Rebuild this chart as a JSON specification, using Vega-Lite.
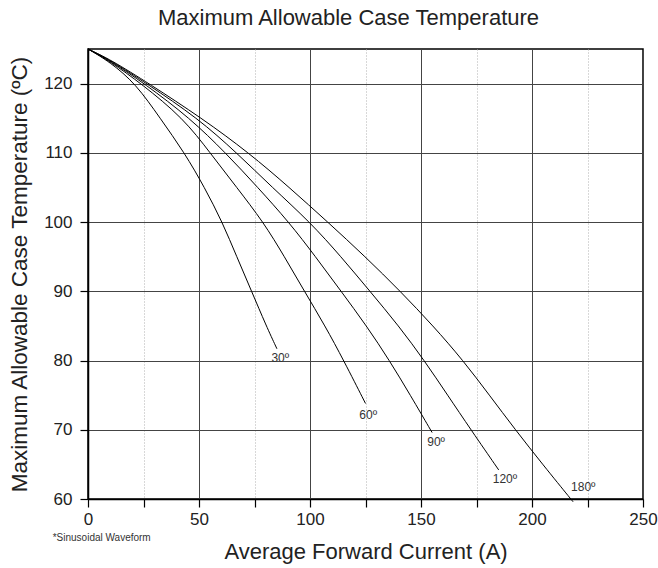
{
  "$schema": "https://vega.github.io/schema/vega-lite/v6.json",
  "width": 555,
  "height": 450,
  "autosize": "none",
  "padding": {"left": 88, "top": 49, "right": 15, "bottom": 69},
  "background": "white",
  "config": {
    "font": "Liberation Sans",
    "view": {"stroke": "black", "strokeWidth": 1.5}
  },
  "title": {
    "text": "Maximum Allowable Case Temperature",
    "fontSize": 22,
    "fontWeight": "normal",
    "font": "Liberation Sans",
    "color": "#222",
    "anchor": "middle",
    "dx": -17,
    "baseline": "alphabetic",
    "offset": 0
  },
  "datasets": {
    "curves": [
      {"deg": "30º", "x": 0, "y": 125}, {"deg": "30º", "x": 10, "y": 123.1}, {"deg": "30º", "x": 21.5, "y": 120}, {"deg": "30º", "x": 32.5, "y": 115}, {"deg": "30º", "x": 43.5, "y": 110}, {"deg": "30º", "x": 52.5, "y": 105}, {"deg": "30º", "x": 60.5, "y": 100}, {"deg": "30º", "x": 67, "y": 95}, {"deg": "30º", "x": 73.7, "y": 90}, {"deg": "30º", "x": 80.3, "y": 85}, {"deg": "30º", "x": 85.1, "y": 81.7},
      {"deg": "60º", "x": 0, "y": 125}, {"deg": "60º", "x": 10, "y": 123.2}, {"deg": "60º", "x": 24, "y": 120}, {"deg": "60º", "x": 43, "y": 115}, {"deg": "60º", "x": 55, "y": 110}, {"deg": "60º", "x": 67, "y": 105}, {"deg": "60º", "x": 79, "y": 100}, {"deg": "60º", "x": 88.5, "y": 95}, {"deg": "60º", "x": 97.5, "y": 90}, {"deg": "60º", "x": 106.8, "y": 85}, {"deg": "60º", "x": 115.2, "y": 80}, {"deg": "60º", "x": 125, "y": 73.8},
      {"deg": "90º", "x": 0, "y": 125}, {"deg": "90º", "x": 10, "y": 123.3}, {"deg": "90º", "x": 25.5, "y": 120}, {"deg": "90º", "x": 46, "y": 115}, {"deg": "90º", "x": 62, "y": 110}, {"deg": "90º", "x": 76.5, "y": 105}, {"deg": "90º", "x": 90.5, "y": 100}, {"deg": "90º", "x": 102.5, "y": 95}, {"deg": "90º", "x": 114, "y": 90}, {"deg": "90º", "x": 125.5, "y": 85}, {"deg": "90º", "x": 135.8, "y": 80}, {"deg": "90º", "x": 145.2, "y": 75}, {"deg": "90º", "x": 155, "y": 69.6},
      {"deg": "120º", "x": 0, "y": 125}, {"deg": "120º", "x": 10, "y": 123.4}, {"deg": "120º", "x": 26.5, "y": 120}, {"deg": "120º", "x": 49.5, "y": 115}, {"deg": "120º", "x": 67, "y": 110}, {"deg": "120º", "x": 83, "y": 105}, {"deg": "120º", "x": 100, "y": 100}, {"deg": "120º", "x": 114, "y": 95}, {"deg": "120º", "x": 127, "y": 90}, {"deg": "120º", "x": 140, "y": 85}, {"deg": "120º", "x": 151.5, "y": 80}, {"deg": "120º", "x": 162, "y": 75}, {"deg": "120º", "x": 172.5, "y": 70}, {"deg": "120º", "x": 185, "y": 64.2},
      {"deg": "180º", "x": 0, "y": 125}, {"deg": "180º", "x": 10, "y": 123.5}, {"deg": "180º", "x": 27.5, "y": 120}, {"deg": "180º", "x": 51.3, "y": 115}, {"deg": "180º", "x": 72.5, "y": 110}, {"deg": "180º", "x": 90.7, "y": 105}, {"deg": "180º", "x": 108, "y": 100}, {"deg": "180º", "x": 124.9, "y": 95}, {"deg": "180º", "x": 140.7, "y": 90}, {"deg": "180º", "x": 155.5, "y": 85}, {"deg": "180º", "x": 169, "y": 80}, {"deg": "180º", "x": 180.8, "y": 75}, {"deg": "180º", "x": 192.5, "y": 70}, {"deg": "180º", "x": 204.8, "y": 65}, {"deg": "180º", "x": 218.5, "y": 59.6}
    ],
    "labels": [
      {"label": "30º", "x": 86.6, "y": 80.3},
      {"label": "60º", "x": 126.2, "y": 72.2},
      {"label": "90º", "x": 156.8, "y": 68.2},
      {"label": "120º", "x": 187.8, "y": 62.9},
      {"label": "180º", "x": 223.1, "y": 61.7}
    ],
    "notes": [
      {"label": "*Sinusoidal Waveform", "x": -15.9, "y": 54.3}
    ]
  },
  "layer": [
    {
      "data": {"name": "curves"},
      "mark": {"type": "line", "color": "black", "strokeWidth": 1, "interpolate": "basis"},
      "encoding": {
        "x": {
          "field": "x", "type": "quantitative",
          "scale": {"domain": [0, 250], "nice": false, "zero": false},
          "axis": {
            "values": [0, 25, 50, 75, 100, 125, 150, 175, 200, 225, 250],
            "labelExpr": "datum.value % 50 === 0 ? datum.label : ''",
            "grid": true,
            "gridColor": {"condition": {"test": "datum.value % 50 === 0", "value": "#444"}, "value": "#b0b0b0"},
            "gridDash": {"condition": {"test": "datum.value % 50 === 0", "value": []}, "value": [1, 2]},
            "gridWidth": 1,
            "domainColor": "black",
            "domainWidth": 1.5,
            "tickColor": "black",
            "tickSize": 8,
            "tickWidth": 1.2,
            "labelFontSize": 17,
            "labelColor": "#222",
            "labelPadding": 4,
            "labelFlush": false,
            "title": "Average Forward Current (A)",
            "titleFontSize": 22,
            "titleFontWeight": "normal",
            "titleColor": "#222",
            "titlePadding": 14
          }
        },
        "y": {
          "field": "y", "type": "quantitative",
          "scale": {"domain": [60, 125], "nice": false, "zero": false},
          "axis": {
            "values": [60, 65, 70, 75, 80, 85, 90, 95, 100, 105, 110, 115, 120, 125],
            "labelExpr": "datum.value % 10 === 0 ? datum.label : ''",
            "grid": true,
            "gridColor": {"condition": {"test": "datum.value % 10 === 0", "value": "#444"}, "value": "#b0b0b0"},
            "gridDash": {"condition": {"test": "datum.value % 10 === 0", "value": []}, "value": [1, 2]},
            "gridWidth": 1,
            "domainColor": "black",
            "domainWidth": 1.5,
            "tickColor": "black",
            "tickSize": 8,
            "tickWidth": 1.2,
            "labelFontSize": 17,
            "labelColor": "#222",
            "labelPadding": 8,
            "labelFlush": false,
            "title": "Maximum Allowable Case Temperature (ºC)",
            "titleFontSize": 22.5,
            "titleFontWeight": "normal",
            "titleColor": "#222",
            "titlePadding": 12
          }
        },
        "detail": {"field": "deg", "type": "nominal"}
      }
    },
    {
      "data": {"name": "labels"},
      "mark": {"type": "text", "fontSize": 12, "color": "#333", "align": "center", "baseline": "middle"},
      "encoding": {
        "x": {"field": "x", "type": "quantitative"},
        "y": {"field": "y", "type": "quantitative"},
        "text": {"field": "label"}
      }
    },
    {
      "data": {"name": "notes"},
      "mark": {"type": "text", "fontSize": 10, "color": "#333", "align": "left", "baseline": "middle"},
      "encoding": {
        "x": {"field": "x", "type": "quantitative"},
        "y": {"field": "y", "type": "quantitative"},
        "text": {"field": "label"}
      }
    }
  ]
}
